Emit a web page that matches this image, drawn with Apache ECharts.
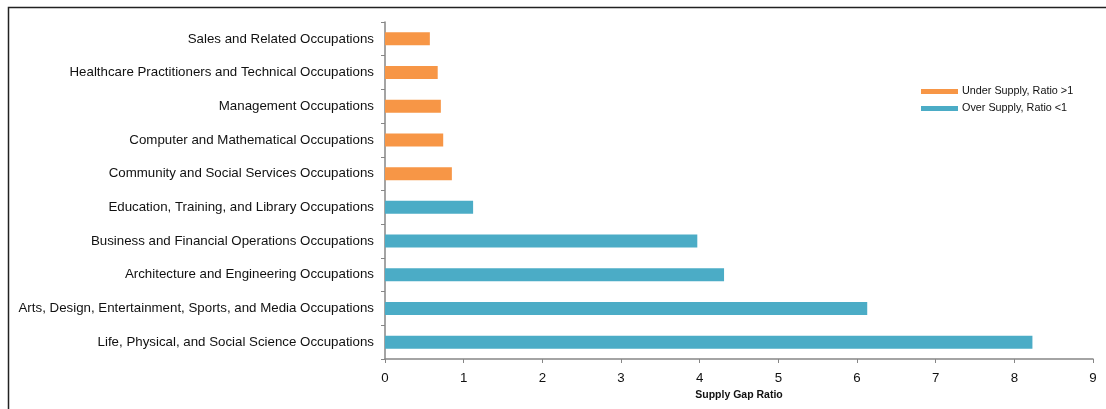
<!DOCTYPE html>
<html>
<head>
<meta charset="utf-8">
<style>
  html, body { margin: 0; padding: 0; background: #fff; }
  #chart { width: 1106px; height: 409px; }
</style>
<script src="https://cdn.jsdelivr.net/npm/echarts@6/dist/echarts.min.js"></script>
</head>
<body>
<div id="chart"></div>
<script>
// Occupation groups, listed top to bottom
const categories = [
  'Sales and Related Occupations',
  'Healthcare Practitioners and Technical Occupations',
  'Management Occupations',
  'Computer and Mathematical Occupations',
  'Community and Social Services Occupations',
  'Education, Training, and Library Occupations',
  'Business and Financial Operations Occupations',
  'Architecture and Engineering Occupations',
  'Arts, Design, Entertainment, Sports, and Media Occupations',
  'Life, Physical, and Social Science Occupations'
];

// Supply gap ratio per group (null where the group belongs to the other series)
const underSupply = [0.57, 0.67, 0.71, 0.74, 0.85, null, null, null, null, null];
const overSupply  = [null, null, null, null, null, 1.12, 3.97, 4.31, 6.13, 8.23];

const seriesNames = ['Under Supply, Ratio >1', 'Over Supply, Ratio <1'];
const xTicks = { min: 0, max: 9, interval: 1 };

const chart = echarts.init(document.getElementById('chart'), null, { renderer: 'canvas' });
const font = 'Liberation Sans, Arial, sans-serif';
const axisGrey = '#868686';

chart.setOption({
  animation: false,
  backgroundColor: '#ffffff',
  textStyle: { fontFamily: font },
  graphic: [{
    type: 'rect',
    shape: { x: 8.5, y: 7.5, width: 1120, height: 420 },
    style: { fill: 'none', stroke: '#222', lineWidth: 1.5 },
    silent: true
  }],
  grid: { left: 385, right: 13, top: 22, bottom: 50 },
  legend: {
    orient: 'vertical',
    left: 916,
    top: 81,
    itemWidth: 37,
    itemHeight: 5,
    itemGap: 6,
    icon: 'rect',
    textStyle: { fontFamily: font, fontSize: 10.8, color: '#111', padding: [0, 0, 0, -1] },
    data: seriesNames
  },
  xAxis: {
    type: 'value',
    min: xTicks.min,
    max: xTicks.max,
    interval: xTicks.interval,
    name: 'Supply Gap Ratio',
    nameLocation: 'middle',
    nameGap: 29,
    nameTextStyle: { fontFamily: font, fontSize: 10.5, fontWeight: 'bold', color: '#111' },
    axisLine: { show: true, lineStyle: { color: axisGrey, width: 1.5 } },
    axisTick: { show: true, length: 4, lineStyle: { color: axisGrey } },
    axisLabel: { fontFamily: font, fontSize: 13.3, color: '#111', margin: 13 },
    splitLine: { show: false }
  },
  yAxis: {
    type: 'category',
    inverse: true,
    data: categories,
    axisLine: { show: true, lineStyle: { color: axisGrey, width: 1.5 } },
    axisTick: { show: true, length: 4, lineStyle: { color: axisGrey } },
    axisLabel: { fontFamily: font, fontSize: 13.3, color: '#111', margin: 11 }
  },
  series: [
    {
      name: seriesNames[0],
      type: 'bar',
      data: underSupply,
      barWidth: 13,
      barGap: '-100%',
      itemStyle: { color: '#F79646' }
    },
    {
      name: seriesNames[1],
      type: 'bar',
      data: overSupply,
      barWidth: 13,
      barGap: '-100%',
      itemStyle: { color: '#4BACC6' }
    }
  ]
});
</script>
</body>
</html>
